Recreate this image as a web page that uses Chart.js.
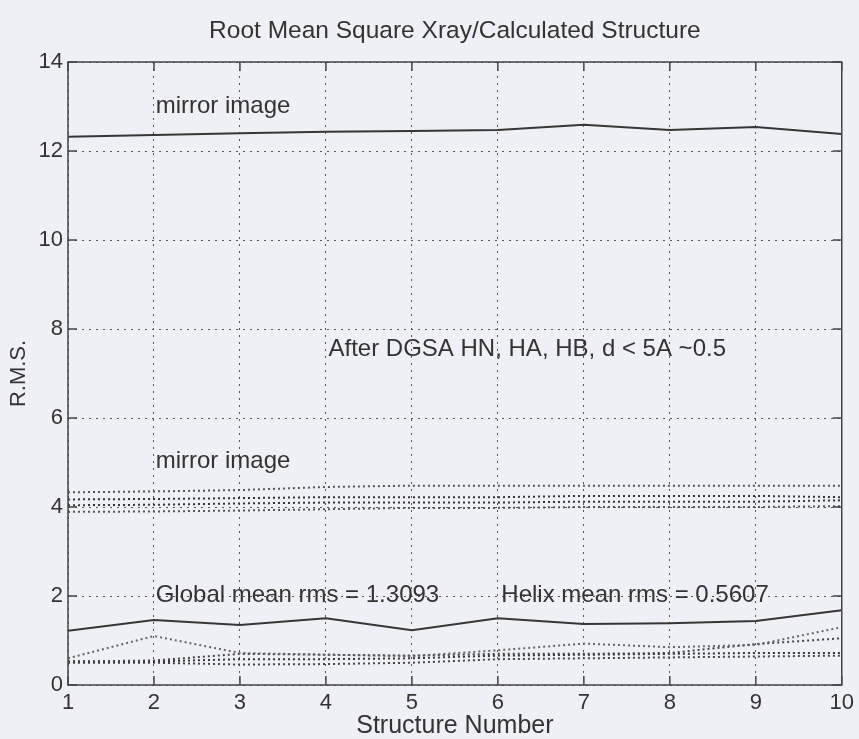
<!DOCTYPE html>
<html>
<head>
<meta charset="utf-8">
<script src="https://cdn.jsdelivr.net/npm/chart.js@4/dist/chart.umd.min.js"></script>
<style>
html,body{margin:0;padding:0;background:#eff0f5;}
</style>
</head>
<body>
<canvas id="c" width="859" height="739"></canvas>
<script>
/* RMS Xray / calculated structure */
const structures = [1,2,3,4,5,6,7,8,9,10];
const yTicks = [0,2,4,6,8,10,12,14];

// mirror image, plain calculation (solid, top)
const mirrorRms = [12.32,12.36,12.40,12.43,12.45,12.47,12.59,12.47,12.54,12.38];
// mirror image after DGSA (dotted, around 4)
const mirrorDgsaA = [4.33,4.35,4.38,4.45,4.48,4.48,4.48,4.48,4.48,4.48];
const mirrorDgsaB = [4.17,4.18,4.20,4.22,4.22,4.22,4.25,4.25,4.25,4.22];
const mirrorDgsaC = [4.04,4.05,4.08,4.10,4.10,4.10,4.12,4.12,4.12,4.15];
const mirrorDgsaD = [3.89,3.90,3.92,3.95,3.98,3.98,4.00,4.00,4.00,4.02];
// global rms (solid, bottom)
const globalRms = [1.22,1.46,1.35,1.50,1.23,1.50,1.37,1.39,1.44,1.68];
// after DGSA (dotted, bottom)
const dgsaE = [0.60,1.10,0.72,0.68,0.65,0.78,0.93,0.85,0.90,1.30];
const dgsaF = [0.53,0.55,0.70,0.68,0.66,0.70,0.70,0.72,0.92,1.05];
const dgsaG = [0.53,0.53,0.58,0.58,0.60,0.66,0.68,0.70,0.72,0.72];
const dgsaH = [0.50,0.50,0.46,0.47,0.50,0.58,0.60,0.62,0.64,0.66];

const FONT = "'Liberation Sans', Arial, Helvetica, sans-serif";
const INK = "#333";
const TITLE = "Root Mean Square Xray/Calculated Structure";

const notes = [
  {text:"mirror image", x:2.02, y:13.0},
  {text:"After DGSA HN, HA, HB, d < 5A ~0.5", x:4.03, y:7.55},
  {text:"mirror image", x:2.02, y:5.02},
  {text:"Global mean rms = 1.3093", x:2.02, y:2.02},
  {text:"Helix mean rms = 0.5607", x:6.04, y:2.02}
];

const pts = (vals) => structures.map((s,i) => ({x:s, y:vals[i]}));
const solid = (vals) => ({data:pts(vals), borderColor:"#363636", borderWidth:2, pointRadius:0, tension:0});
const dotted = (vals, col) => ({data:pts(vals), borderColor:col, borderWidth:2, borderDash:[2,3], pointRadius:0, tension:0});

const boxPlugin = {
  id:"box",
  afterDatasetsDraw(chart){
    const {ctx, chartArea:a, scales:{x,y}} = chart;
    ctx.save();
    ctx.strokeStyle = "#444";
    ctx.lineWidth = 1.5;
    ctx.strokeRect(a.left, a.top, a.right-a.left, a.bottom-a.top);
    const len = 9;
    ctx.beginPath();
    x.ticks.forEach(t => {
      const px = x.getPixelForValue(t.value);
      ctx.moveTo(px, a.bottom); ctx.lineTo(px, a.bottom-len);
      ctx.moveTo(px, a.top); ctx.lineTo(px, a.top+len);
    });
    y.ticks.forEach(t => {
      const py = y.getPixelForValue(t.value);
      ctx.moveTo(a.left, py); ctx.lineTo(a.left+len, py);
      ctx.moveTo(a.right, py); ctx.lineTo(a.right-len, py);
    });
    ctx.stroke();
    ctx.fillStyle = INK;
    ctx.textBaseline = "middle";
    // title centred over the axes
    ctx.font = "24.5px " + FONT;
    ctx.textAlign = "center";
    ctx.fillText(TITLE, (a.left + a.right) / 2, 31);
    ctx.font = "24px " + FONT;
    ctx.textAlign = "left";
    notes.forEach(n => ctx.fillText(n.text, x.getPixelForValue(n.x), y.getPixelForValue(n.y)));
    ctx.restore();
  }
};

new Chart(document.getElementById("c").getContext("2d"), {
  type:"line",
  data:{
    datasets:[
      solid(mirrorRms),
      dotted(mirrorDgsaA,"#555"),
      dotted(mirrorDgsaB,"#333"),
      dotted(mirrorDgsaC,"#333"),
      dotted(mirrorDgsaD,"#555"),
      solid(globalRms),
      dotted(dgsaE,"#666"),
      dotted(dgsaF,"#444"),
      dotted(dgsaG,"#333"),
      dotted(dgsaH,"#444")
    ]
  },
  options:{
    responsive:false,
    animation:false,
    devicePixelRatio:1,
    layout:{padding:{left:0, right:12, top:62, bottom:0}},
    plugins:{
      legend:{display:false},
      tooltip:{enabled:false},
      title:{display:false}
    },
    scales:{
      x:{
        type:"linear", min:1, max:10,
        afterFit:(s) => { s.height = 54; },
        ticks:{stepSize:1, color:INK, padding:5, font:{family:FONT, size:22}},
        grid:{color:"#555", lineWidth:1, drawTicks:false},
        border:{display:false, dash:[2,5]},
        title:{display:true, text:"Structure Number", color:INK, padding:{top:0, bottom:0},
               font:{family:FONT, size:25, lineHeight:1.0}}
      },
      y:{
        min:0, max:14,
        afterFit:(s) => { s.width = 68; },
        afterBuildTicks:(s) => { s.ticks = yTicks.map(v => ({value:v})); },
        ticks:{color:INK, padding:5, font:{family:FONT, size:22}},
        grid:{color:"#555", lineWidth:1, drawTicks:false},
        border:{display:false, dash:[2,5]},
        title:{display:true, text:"R.M.S.", color:INK, padding:{top:6, bottom:0},
               font:{family:FONT, size:22, lineHeight:1.2}}
      }
    }
  },
  plugins:[boxPlugin]
});
</script>
</body>
</html>
